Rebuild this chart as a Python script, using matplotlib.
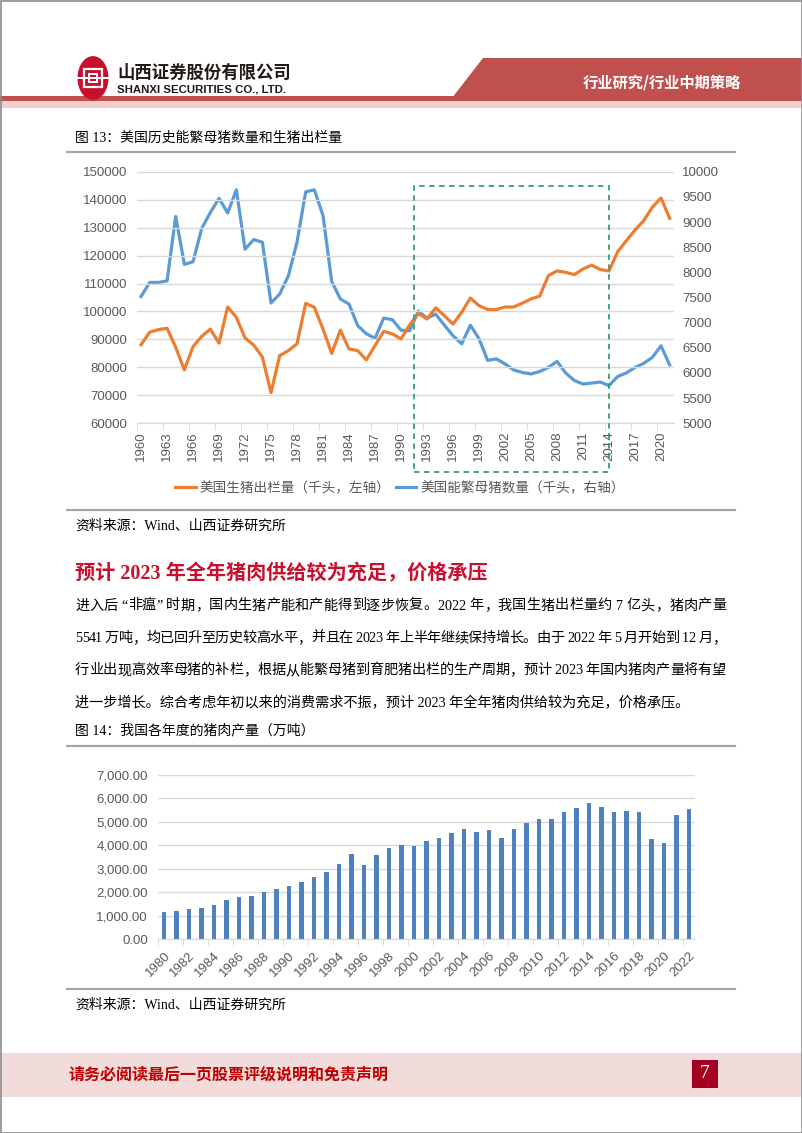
import matplotlib
matplotlib.use('Agg')
import numpy as np
import matplotlib.pyplot as plt
from matplotlib.patches import Rectangle, Polygon, Circle
from matplotlib.lines import Line2D
from matplotlib.ticker import FixedLocator, FuncFormatter

plt.rcParams['font.family'] = ['Noto Sans CJK SC', 'DejaVu Sans']

####################################################################################

W, H = 802, 1133

# 图13 数据 (千头)
years_us = list(range(1960, 2022))
hogs_slaughter = [88100, 92600, 93500, 94000, 87200, 79100, 87400, 91100, 93700, 88700,
                  101600, 97900, 90500, 88000, 83700, 71000, 84200, 86000, 88400, 102900,
                  101500, 93700, 85000, 93300, 86600, 86000, 82700, 87800, 92900, 92000,
                  90200, 95200, 99300, 97300, 101300, 98500, 95500, 99700, 104800, 102100,
                  100700, 100700, 101600, 101600, 103000, 104500, 105500, 112800, 114500, 114000,
                  113200, 115200, 116600, 115000, 114500, 121400, 125300, 129100, 132500, 137300,
                  140600, 133300]
breeding_sows = [7520, 7800, 7800, 7830, 9110, 8160, 8210, 8870, 9190, 9470,
                 9180, 9640, 8460, 8650, 8600, 7390, 7570, 7930, 8600, 9600,
                 9640, 9130, 7820, 7470, 7370, 6940, 6780, 6690, 7090, 7060,
                 6850, 6840, 7230, 7090, 7170, 6950, 6740, 6580, 6950, 6680,
                 6250, 6280, 6180, 6060, 6010, 5980, 6030, 6110, 6230, 6000,
                 5850, 5780, 5800, 5820, 5750, 5930, 6000, 6110, 6190, 6310,
                 6540, 6160]
legend_labels = ['美国生猪出栏量（千头，左轴）', '美国能繁母猪数量（千头，右轴）']

# 图14 数据 (万吨)
years_cn = list(range(1980, 2023))
pork_output = [1134, 1188, 1272, 1316, 1445, 1655, 1796, 1835, 2018, 2123,
               2281, 2452, 2635, 2854, 3205, 3648, 3158, 3596, 3884, 4006,
               3966, 4182, 4324, 4523, 4694, 4566, 4651, 4310, 4694, 4950,
               5135, 5135, 5434, 5605, 5818, 5647, 5420, 5448, 5405, 4255,
               4113, 5296, 5541]

paragraph = ['进入后 “非瘟” 时期，国内生猪产能和产能得到逐步恢复。2022 年，我国生猪出栏量约 7 亿头，猪肉产量',
             '5541 万吨，均已回升至历史较高水平，并且在 2023 年上半年继续保持增长。由于 2022 年 5 月开始到 12 月，',
             '行业出现高效率母猪的补栏，根据从能繁母猪到育肥猪出栏的生产周期，预计 2023 年国内猪肉产量将有望',
             '进一步增长。综合考虑年初以来的消费需求不振，预计 2023 年全年猪肉供给较为充足，价格承压。']

####################################################################################

ORANGE = '#ED7D31'
BLUE = '#5B9BD5'
BAR_BLUE = '#4F81BD'
GRID = '#D9D9D9'
TICK_TXT = '#595959'
HEAD_RED = '#C0504D'
PINK = '#F2DCDB'
TITLE_RED = '#C8102E'
BODY = ['Liberation Serif', 'Noto Sans CJK SC']
ARIAL = ['Liberation Sans', 'DejaVu Sans']
BODY_SIZE = 10.2


def fx(x):
    return x / W


def fy(y):
    return 1 - y / H


def px_axes(fig, l, t, r, b):
    return fig.add_axes([l / W, 1 - b / H, (r - l) / W, (b - t) / H])


fig = plt.figure(figsize=(W / 100, H / 100), dpi=100, facecolor='white')
renderer = fig.canvas.get_renderer()


def text_width(s):
    t = fig.text(0, 0, s, fontsize=BODY_SIZE, family=BODY)
    w = t.get_window_extent(renderer).width
    t.remove()
    return w


def justified_line(s, left, right, y):
    # spread the characters so that the line fills left..right
    extra = (right - left) - text_width(s)
    n = len(s)
    for k, ch in enumerate(s):
        if ch == ' ':
            continue
        x = left + text_width(s[:k + 1]) - text_width(ch) + k * extra / (n - 1)
        fig.text(fx(x), fy(y), ch, fontsize=BODY_SIZE, ha='left', va='center',
                 family=BODY, color='black')


# ---------------- page header ----------------
fig.patches.append(Rectangle((0, fy(101)), 1, 5 / H, transform=fig.transFigure,
                             facecolor=HEAD_RED, edgecolor='none'))
fig.patches.append(Rectangle((0, fy(108)), 1, 7 / H, transform=fig.transFigure,
                             facecolor='#EFCFCE', edgecolor='none'))
fig.patches.append(Polygon([(fx(452), fy(98)), (fx(483), fy(58)), (1, fy(58)), (1, fy(98))],
                           closed=True, transform=fig.transFigure,
                           facecolor=HEAD_RED, edgecolor='none'))
fig.text(fx(662), fy(83), '行业研究/行业中期策略', color='white', fontsize=11,
         fontweight='bold', ha='center', va='center')

# logo
fig.patches.append(Circle((fx(93), fy(78)), 15.5 / W, transform=fig.transFigure,
                          facecolor=TITLE_RED, edgecolor='none'))
fig.patches.append(Rectangle((fx(84), fy(87)), 18 / W, 18 / H, transform=fig.transFigure,
                             facecolor='none', edgecolor='white', linewidth=1.6))
fig.patches.append(Rectangle((fx(89), fy(82)), 8 / W, 8 / H, transform=fig.transFigure,
                             facecolor='none', edgecolor='white', linewidth=1.4))
fig.patches.append(Rectangle((fx(76), fy(79)), 34 / W, 2 / H, transform=fig.transFigure,
                             facecolor='white', edgecolor='none'))
fig.text(fx(117), fy(73), '山西证券股份有限公司', fontsize=12.5, fontweight='bold',
         color='#231815', ha='left', va='center')
fig.text(fx(117), fy(90), 'SHANXI SECURITIES CO., LTD.', fontsize=8.2, fontweight='bold',
         color='#231815', ha='left', va='center', family=ARIAL)

# ---------------- figure 13 ----------------
fig.text(fx(75), fy(138), '图 13：美国历史能繁母猪数量和生猪出栏量', fontsize=10,
         ha='left', va='center', family=BODY, color='black')
fig.add_artist(Line2D([fx(67), fx(735)], [fy(152), fy(152)], color='#A6A6A6', linewidth=1.6))

ax1 = px_axes(fig, 136.7, 171.7, 674, 423.3)
ax2 = ax1.twinx()
x_us = np.arange(len(years_us))
l1, = ax1.plot(x_us, hogs_slaughter, color=ORANGE, linewidth=2.3, solid_joinstyle='round')
l2, = ax2.plot(x_us, breeding_sows, color=BLUE, linewidth=2.3, solid_joinstyle='round')
ax1.set_zorder(ax2.get_zorder() + 1)
ax1.patch.set_visible(False)

ax1.set_xlim(-0.5, len(years_us) - 0.5)
ax1.set_ylim(60000, 150000)
ax2.set_ylim(5000, 10000)
ax1.set_yticks(np.arange(60000, 150001, 10000))
ax2.set_yticks(np.arange(5000, 10001, 500))
ax1.yaxis.grid(True, color=GRID, linewidth=1)
ax1.set_axisbelow(True)

label_pos = x_us[::3]
ax1.xaxis.set_major_locator(FixedLocator(label_pos))
ax1.set_xticklabels([str(years_us[i]) for i in label_pos], rotation=90,
                    fontsize=9.5, color=TICK_TXT, family=ARIAL)
ax1.xaxis.set_minor_locator(FixedLocator(np.arange(-0.5, len(years_us), 3)))
ax1.tick_params(axis='x', which='major', length=0, pad=6)
ax1.tick_params(axis='x', which='minor', length=5, color=GRID, direction='out')
ax1.tick_params(axis='y', length=0, pad=7, labelsize=9.5, labelcolor=TICK_TXT)
ax2.tick_params(axis='y', length=0, pad=6, labelsize=9.5, labelcolor=TICK_TXT)
for t in ax1.get_yticklabels() + ax2.get_yticklabels():
    t.set_family(ARIAL)
for a in (ax1, ax2):
    for s in ('top', 'left', 'right'):
        a.spines[s].set_visible(False)
    a.spines['bottom'].set_color(GRID)

# highlighted period box
ax1.add_patch(Rectangle((31.5, 42700), 54.05 - 31.5, 145000 - 42700, fill=False,
                        edgecolor='#33A06F', linestyle=(0, (3, 2.5)), linewidth=1.3,
                        clip_on=False, zorder=5))

fig.legend([l1, l2], legend_labels, loc='center', bbox_to_anchor=(fx(400), fy(488)),
           ncol=2, frameon=False, fontsize=9.8, labelcolor=TICK_TXT,
           handlelength=1.5, handletextpad=0.3, columnspacing=0.4)

fig.add_artist(Line2D([fx(67), fx(735)], [fy(510), fy(510)], color='#A6A6A6', linewidth=1.6))
fig.text(fx(75), fy(526), '资料来源：Wind、山西证券研究所', fontsize=10,
         ha='left', va='center', family=BODY, color='black')

# ---------------- section heading and body ----------------
fig.text(fx(75), fy(574), '预计 2023 年全年猪肉供给较为充足，价格承压', fontsize=14.5,
         fontweight='bold', ha='left', va='center', family=BODY, color=TITLE_RED)
for k, line in enumerate(paragraph):
    y = 606 + 32.3 * k
    if k < len(paragraph) - 1:
        justified_line(line, 75, 726, y)
    else:
        fig.text(fx(75), fy(y), line, fontsize=BODY_SIZE, ha='left', va='center',
                 family=BODY, color='black')

# ---------------- figure 14 ----------------
fig.text(fx(75), fy(731), '图 14：我国各年度的猪肉产量（万吨）', fontsize=10,
         ha='left', va='center', family=BODY, color='black')
fig.add_artist(Line2D([fx(67), fx(735)], [fy(746), fy(746)], color='#A6A6A6', linewidth=1.6))

ax3 = px_axes(fig, 157.8, 775, 695, 939)
x_cn = np.arange(len(years_cn))
ax3.bar(x_cn, pork_output, width=0.36, color=BAR_BLUE, zorder=3)
ax3.set_xlim(-0.5, len(years_cn) - 0.5)
ax3.set_ylim(0, 7000)
ax3.set_yticks(np.arange(0, 7001, 1000))
ax3.yaxis.set_major_formatter(FuncFormatter(lambda v, p: f'{v:,.2f}'))
ax3.yaxis.grid(True, color=GRID, linewidth=1)
ax3.set_axisbelow(True)
lab2 = x_cn[::2]
ax3.xaxis.set_major_locator(FixedLocator(lab2))
ax3.set_xticklabels([str(years_cn[i]) for i in lab2], rotation=45, ha='right',
                    rotation_mode='anchor', fontsize=9.5, color=TICK_TXT, family=ARIAL)
ax3.xaxis.set_minor_locator(FixedLocator(np.arange(-0.5, len(years_cn), 2)))
ax3.tick_params(axis='x', which='major', length=0, pad=8)
ax3.tick_params(axis='x', which='minor', length=4, color=GRID, direction='out')
ax3.tick_params(axis='y', length=0, pad=7, labelsize=9.5, labelcolor=TICK_TXT)
for t in ax3.get_yticklabels():
    t.set_family(ARIAL)
for s in ('top', 'left', 'right'):
    ax3.spines[s].set_visible(False)
ax3.spines['bottom'].set_color(GRID)

fig.add_artist(Line2D([fx(67), fx(735)], [fy(989), fy(989)], color='#A6A6A6', linewidth=1.6))
fig.text(fx(75), fy(1005), '资料来源：Wind、山西证券研究所', fontsize=10,
         ha='left', va='center', family=BODY, color='black')

# ---------------- footer ----------------
fig.patches.append(Rectangle((0, fy(1097)), 1, 44 / H, transform=fig.transFigure,
                             facecolor=PINK, edgecolor='none'))
fig.text(fx(68), fy(1074), '请务必阅读最后一页股票评级说明和免责声明', fontsize=11.5,
         fontweight='bold', ha='left', va='center', color='#C00000')
fig.patches.append(Rectangle((fx(692), fy(1088)), 26 / W, 28 / H, transform=fig.transFigure,
                             facecolor='#A50021', edgecolor='none'))
fig.text(fx(705), fy(1074), '7', fontsize=14, ha='center', va='center', color='white',
         family=BODY)

# page frame
fig.patches.append(Rectangle((0.5 / W, 0.5 / H), 1 - 1 / W, 1 - 1 / H, transform=fig.transFigure,
                             facecolor='none', edgecolor='#8C8C8C', linewidth=1.2))

fig.savefig('out.png', dpi=100, facecolor='white')
